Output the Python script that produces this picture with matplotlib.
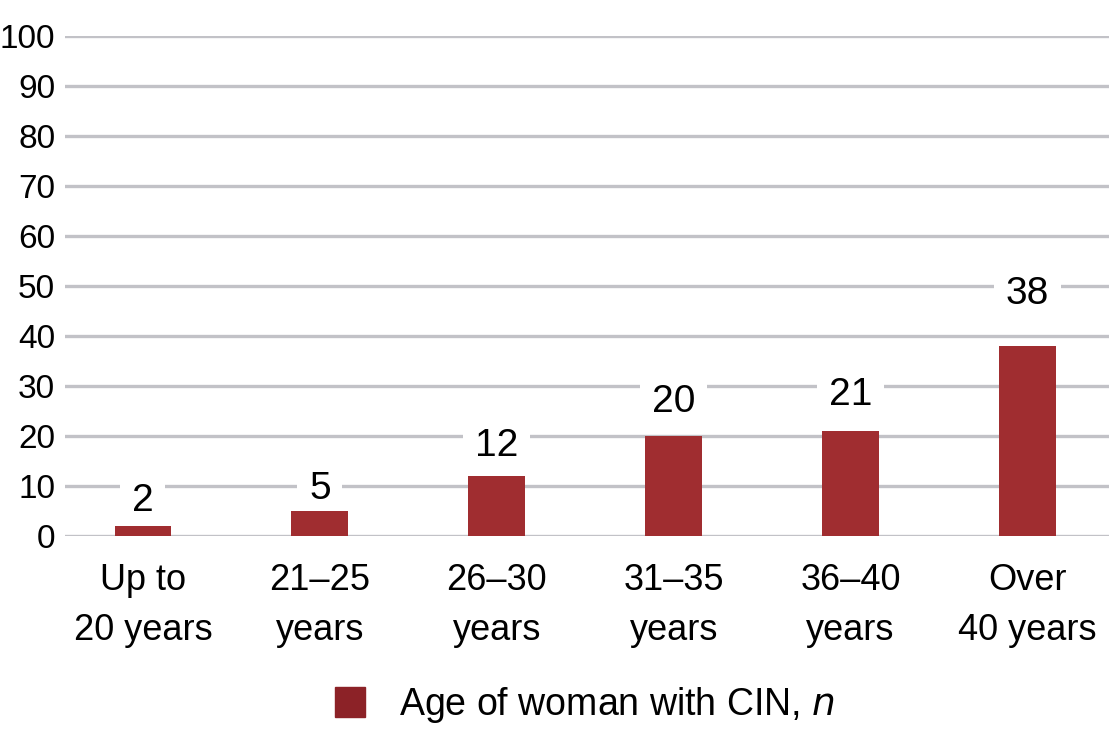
import matplotlib
matplotlib.use("Agg")
import matplotlib.pyplot as plt
from matplotlib import font_manager
from matplotlib.patches import Patch

categories = ["Up to\n20 years", "21–25\nyears", "26–30\nyears",
              "31–35\nyears", "36–40\nyears", "Over\n40 years"]
values = [2, 5, 12, 20, 21, 38]
series_name = "Age of woman with CIN, $\\it{n}$"
y_ticks = [0, 10, 20, 30, 40, 50, 60, 70, 80, 90, 100]

# label gaps above bars in pixels (the original places them by hand)
label_gaps = [7, 4, 12, 16, 18, 34]

BAR_COLOUR = "#a02d30"
LEGEND_COLOUR = "#8c2227"
GRID_COLOUR = "#c2c2c7"

# the original uses a narrow Arial; use a narrow face when there is one
installed = {f.name for f in font_manager.fontManager.ttflist}
if "Liberation Sans Narrow" in installed:
    plt.rcParams['font.family'] = ['Liberation Sans Narrow', 'DejaVu Sans']
    TICKSIZE, FONTSIZE, VALSIZE = 28, 29, 31
else:
    plt.rcParams['font.family'] = ['Liberation Sans', 'DejaVu Sans']
    TICKSIZE, FONTSIZE, VALSIZE = 24, 26, 28

fig = plt.figure(figsize=(11.09, 7.31), dpi=100)
ax = fig.add_axes([65 / 1109, 195 / 731, 1 - 65 / 1109, 500 / 731])

x = range(len(categories))
ax.bar(x, values, width=0.32, color=BAR_COLOUR, zorder=2)

ax.set_ylim(0, 100)
ax.set_xlim(-0.44, 5.46)
ax.set_yticks(y_ticks)
ax.yaxis.grid(True, color=GRID_COLOUR, linewidth=2.4, zorder=0)
ax.set_axisbelow(True)
for s in ax.spines.values():
    s.set_visible(False)
ax.tick_params(axis='both', length=0)
ax.tick_params(axis='y', pad=7, labelsize=TICKSIZE)
ax.tick_params(axis='x', pad=19.5, labelsize=FONTSIZE)
ax.set_xticks(list(x))
ax.set_xticklabels(categories, linespacing=1.55)

for i, v in enumerate(values):
    ax.annotate(str(v), (i, v), xytext=(0, label_gaps[i] * 0.72),
                textcoords='offset points', ha='center', va='bottom',
                fontsize=VALSIZE, zorder=1,
                bbox=dict(boxstyle='square,pad=0.3', fc='white', ec='none'))

fig.legend(handles=[Patch(color=LEGEND_COLOUR, label=series_name)],
           loc='center', bbox_to_anchor=(585 / 1109, 1 - 705 / 731),
           frameon=False, fontsize=27, handlelength=0.8, handleheight=0.85,
           handletextpad=0.9)

fig.savefig("out.png", dpi=100)
